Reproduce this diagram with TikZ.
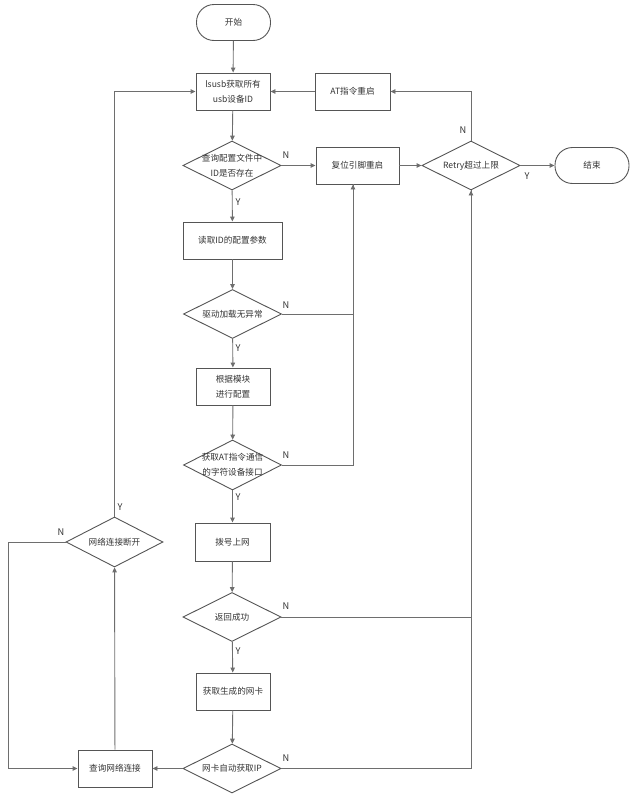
\documentclass[tikz,border=0pt]{standalone}
\usepackage{fontspec}
\setmainfont{Noto Sans CJK SC}
\usetikzlibrary{shapes.geometric,arrows.meta,calc}
\definecolor{linec}{HTML}{6E6E6E}
\definecolor{borderc}{HTML}{555555}
\definecolor{textc}{HTML}{333333}
\newcommand{\zb}[1]{\raisebox{-2.6pt}[0pt][0pt]{\makebox[0pt]{\begin{tabular}{@{}c@{}}#1\end{tabular}}}}
\begin{document}
\begin{tikzpicture}[x=1pt,y=-1pt,
  every node/.style={text=textc,font=\fontsize{8.6}{15}\selectfont},
  proc/.style={draw=borderc,line width=0.9pt,rectangle,minimum width=74pt,minimum height=37pt,inner sep=0pt,align=center},
  term/.style={draw=borderc,line width=0.9pt,rectangle,rounded corners=17.5pt,minimum width=74pt,minimum height=36pt,inner sep=0pt},
  dec/.style={draw=borderc,line width=0.9pt,diamond,minimum width=98pt,minimum height=49pt,inner sep=0pt},
  lab/.style={font=\fontsize{9.2}{10}\selectfont,text=textc,inner sep=0pt},
  conn/.style={draw=linec,line width=0.9pt},
  arr/.style={conn,-{Triangle[length=5pt,width=4.5pt]}}]
\useasboundingbox (0,0) rectangle (636,798);
% nodes
\node[term] (start) at (233.5,22.5) {开始};
\node[proc] (lsusb) at (233,91.5) {lsusb获取所有\\usb设备ID};
\node[proc,minimum width=75pt] (at) at (352.5,91.5) {AT指令重启};
\node[dec] (d1) at (232,165.5) {\zb{查询配置文件中\\ID是否存在}};
\node[proc,minimum width=83pt] (reset) at (357.5,165.5) {复位引脚重启};
\node[dec] (retry) at (471,165.5) {\zb{Retry超过上限}};
\node[term] (end) at (592,165.5) {结束};
\node[proc,minimum width=99pt] (read) at (232.5,240.5) {读取ID的配置参数};
\node[dec] (d2) at (232.5,314) {\zb{驱动加载无异常}};
\node[proc] (cfg) at (233,386.5) {根据模块\\进行配置};
\node[dec,minimum height=50pt] (d3) at (232.5,465) {\zb{获取AT指令通信\\的字符设备接口}};
\node[proc,minimum width=75pt,minimum height=38pt] (dial) at (232.5,542) {拨号上网};
\node[dec,minimum width=97pt,minimum height=50pt] (d6) at (114.5,542) {\zb{网络连接断开}};
\node[dec] (d4) at (232,617) {\zb{返回成功}};
\node[proc] (card) at (233,691.5) {获取生成的网卡};
\node[dec] (d5) at (232,768.5) {\zb{网卡自动获取IP}};
\node[proc] (query) at (115,768.5) {查询网络连接};
% helper coordinates
\coordinate (rb) at ([xshift=-4.5pt]reset.south);
\coordinate (lft) at (8,542);
% main flow
\draw[arr] (start) -- (lsusb);
\draw[arr] (lsusb) -- (d1);
\draw[arr] (d1) -- (read);
\draw[arr] (read) -- (d2);
\draw[arr] (d2) -- (cfg);
\draw[arr] (cfg) -- (d3);
\draw[arr] (d3) -- (dial);
\draw[arr] (dial) -- (d4);
\draw[arr] (d4) -- (card);
\draw[arr] (card) -- (d5);
\draw[arr] (d5) -- (query);
\draw[arr] (query) -- (d6);
\draw[arr] (d6.north) |- (lsusb.west);
\draw[arr] (d6.west) -- (lft) |- (query.west);
\draw[arr] (d1) -- (reset);
\draw[arr] (d2.east) -| (rb);
\draw[conn] (d3.east) -| (rb);
\draw[arr] (reset) -- (retry);
\draw[arr] (retry) -- (end);
\draw[arr] (retry.north) |- (at.east);
\draw[arr] (at) -- (lsusb);
\draw[arr] (d5.east) -| (retry.south);
\draw[conn] (d4.east) -| (retry.south);
% labels
\node[lab] (n1) at (286,155) {N};
\node[lab] (y1) at (238,202) {Y};
\node[lab] (n2) at (463,130) {N};
\node[lab] (y2) at (527,176.5) {Y};
\node[lab] (n3) at (286,305) {N};
\node[lab] (y3) at (238,348) {Y};
\node[lab] (n4) at (286,455) {N};
\node[lab] (y4) at (238,497) {Y};
\node[lab] (n6) at (61,532) {N};
\node[lab] (y6) at (120,507) {Y};
\node[lab] (n5) at (286,606) {N};
\node[lab] (y5) at (238,651) {Y};
\node[lab] (n7) at (286,758) {N};
\end{tikzpicture}
\end{document}
